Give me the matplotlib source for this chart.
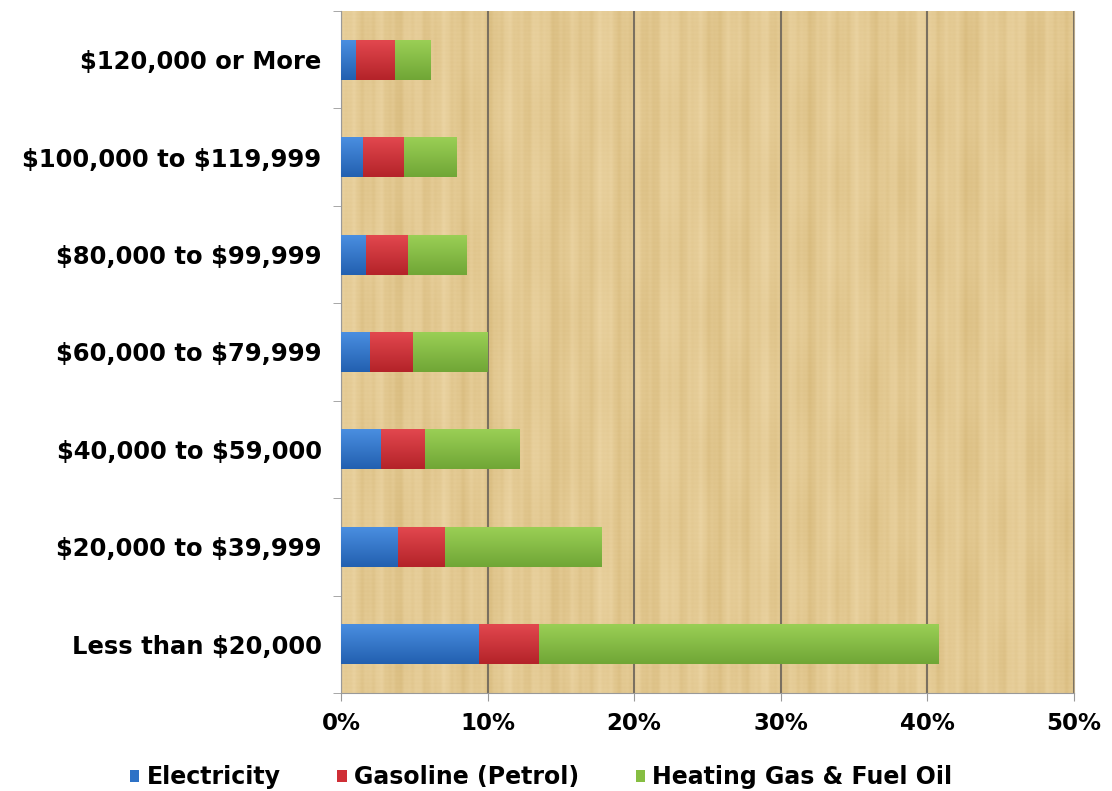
import matplotlib.pyplot as plt
import numpy as np
from matplotlib.colors import LinearSegmentedColormap

# income groups, bottom to top
categories = [
    "Less than $20,000",
    "$20,000 to $39,999",
    "$40,000 to $59,000",
    "$60,000 to $79,999",
    "$80,000 to $99,999",
    "$100,000 to $119,999",
    "$120,000 or More",
]
electricity = [9.4, 3.9, 2.7, 2.0, 1.7, 1.5, 1.0]
gasoline = [4.1, 3.2, 3.0, 2.9, 2.9, 2.8, 2.7]
heating = [27.25, 10.7, 6.45, 5.1, 4.0, 3.55, 2.4]
xticks = [0, 10, 20, 30, 40, 50]

plt.rcParams["font.family"] = ["DejaVu Sans"]
plt.rcParams["font.weight"] = "bold"
plt.rcParams["text.parse_math"] = False

fig = plt.figure(figsize=(11.12, 7.91), dpi=100)
ax = fig.add_axes([0.3067, 0.124, 0.659, 0.862])

ymin, ymax = -0.5, len(categories) - 0.5

# papyrus-like background: soft vertical fibre streaks + faint weave
cols = np.linspace(0, 1, 733)
rows = np.linspace(0, 1, 682)
streak = (0.5 * np.sin(2 * np.pi * 23 * cols) + 0.35 * np.sin(2 * np.pi * 57 * cols + 1.3)
          + 0.25 * np.sin(2 * np.pi * 9 * cols + 0.4) + 0.15 * np.sin(2 * np.pi * 131 * cols))
mottle = 0.25 * np.sin(2 * np.pi * 5 * rows)[:, None] * np.sin(2 * np.pi * 11 * cols + 2.0)[None, :]
weave = 0.12 * np.sin(2 * np.pi * 170 * rows)
tex = streak[None, :] + weave[:, None] + mottle
paper = LinearSegmentedColormap.from_list("paper", ["#D9BC7F", "#E3C992", "#EBD4A3"])
ax.imshow(tex, cmap=paper, extent=[0, 50, ymin, ymax], aspect="auto",
          interpolation="bilinear", zorder=0)

y = np.arange(len(categories))
h = 0.41
elec = np.array(electricity)
gas = np.array(gasoline)
heat = np.array(heating)

series = [
    (elec, np.zeros_like(elec), "#2E72C6", ("#4A8EE0", "#2260B0"), "Electricity"),
    (gas, elec, "#CF2F36", ("#E2474E", "#B42329"), "Gasoline (Petrol)"),
    (heat, elec + gas, "#86BE42", ("#9ACF55", "#70A636"), "Heating Gas & Fuel Oil"),
]
grad = np.linspace(0, 1, 50)[:, None]
for vals, left, color, (top, bottom), label in series:
    bars = ax.barh(y, vals, left=left, height=h, color=color, label=label, zorder=3)
    cmap = LinearSegmentedColormap.from_list(label, [top, bottom])
    for p in bars.patches:
        x0, y0, w, hh = p.get_x(), p.get_y(), p.get_width(), p.get_height()
        im = ax.imshow(grad, cmap=cmap, extent=[x0, x0 + w, y0, y0 + hh],
                       aspect="auto", zorder=4)
        im.set_clip_path(p)

ax.set_xlim(0, 50)
ax.set_ylim(ymin, ymax)
ax.set_xticks(xticks)
ax.set_xticklabels([f"{t}%" for t in xticks])
ax.set_yticks(y)
ax.set_yticklabels(categories)
ax.set_yticks(np.arange(-0.5, len(categories)), minor=True)

ax.tick_params(axis="y", which="major", length=0, pad=14, labelsize=17.5)
ax.tick_params(axis="y", which="minor", length=6, color="#999999", direction="out")
ax.tick_params(axis="x", length=6, color="#999999", labelsize=16.5, pad=8)

ax.grid(axis="x", color="#7A7060", linewidth=1.5, zorder=1)

ax.spines["top"].set_visible(False)
ax.spines["left"].set_color("#999999")
ax.spines["bottom"].set_color("#999999")
ax.spines["right"].set_color("#B8A88A")

ax.legend(loc="upper center", bbox_to_anchor=(0.273, -0.075), ncol=3,
          frameon=False, fontsize=17, handlelength=0.4, handleheight=0.4,
          handletextpad=0.3, columnspacing=2.4)

fig.savefig("out.png", dpi=100)
